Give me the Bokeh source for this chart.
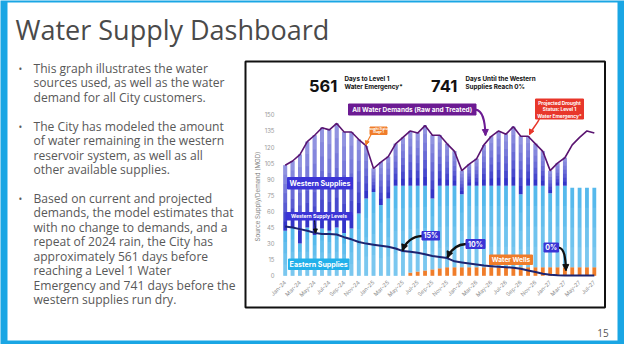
import math
from bokeh.plotting import figure
from bokeh.models import Range1d, ColumnDataSource, Arrow, NormalHead
from bokeh.core.properties import value
from bokeh.embed import file_html
from bokeh.resources import INLINE

# ---------------- data ----------------
months = ["Jan-24", "Feb-24", "Mar-24", "Apr-24", "May-24", "Jun-24", "Jul-24", "Aug-24", "Sep-24", "Oct-24", "Nov-24", "Dec-24",
          "Jan-25", "Feb-25", "Mar-25", "Apr-25", "May-25", "Jun-25", "Jul-25", "Aug-25", "Sep-25", "Oct-25", "Nov-25", "Dec-25",
          "Jan-26", "Feb-26", "Mar-26", "Apr-26", "May-26", "Jun-26", "Jul-26", "Aug-26", "Sep-26", "Oct-26", "Nov-26", "Dec-26",
          "Jan-27", "Feb-27", "Mar-27", "Apr-27", "May-27", "Jun-27", "Jul-27"]
demand = [103, 107, 113, 125, 131, 138, 136, 142, 134, 134, 127, 121,
          100, 106, 111, 123, 129, 135, 133, 140, 131, 131, 123, 116,
          98, 104, 109, 122, 130, 135, 132, 139, 130, 130, 123, 116,
          98, 105, 110, 122, 129, 135, 133]
wells = [0, 0, 0, 0, 0, 0, 0, 0, 0, 0, 0, 0,
         0, 0, 0, 0, 0, 3, 4, 5, 6, 7, 8, 8,
         8, 8, 8, 8, 8, 8, 8, 8, 8, 8, 8, 8,
         8, 8, 8, 8, 8, 8, 8]
eastern = [42, 45, 30, 45, 38, 44, 42, 45, 40, 44, 58, 72,
           78, 66, 72, 84, 84, 81, 80, 79, 66, 77, 76, 76,
           68, 76, 76, 76, 76, 76, 76, 76, 68, 76, 76, 76,
           69, 76, 76, 74, 74, 74, 74]
western = [61, 62, 83, 80, 93, 94, 94, 97, 94, 90, 69, 49,
           22, 40, 39, 39, 45, 51, 49, 56, 59, 47, 39, 32,
           22, 20, 25, 38, 46, 51, 48, 55, 54, 46, 39, 32,
           21, 21, 26, 0, 0, 0, 0]
western_level = [46, 45, 43.5, 42, 40, 39, 39, 38.5, 36, 34, 31.5, 30,
                 29, 28, 27, 25.5, 23, 22.5, 21.5, 20, 18.5, 17.5, 16.5, 13.5,
                 12.5, 11.5, 10.5, 9.5, 9, 8.5, 8, 7.5, 6.5, 5, 3.5, 2,
                 1, 0.6, 0.3, 0.2, 0.2, 0.2, 0.2]
y_ticks = [0, 15, 30, 45, 60, 75, 90, 105, 120, 135, 150]
x_tick_labels = months[::2]

bullets = [
    ["This graph illustrates the water", "sources used, as well as the water", "demand for all City customers."],
    ["The City has modeled the amount", "of water remaining in the western", "reservoir system, as well as all", "other available supplies."],
    ["Based on current and projected", "demands, the model estimates that", "with no change to demands, and a",
     "repeat of 2024 rain, the City has", "approximately 561 days before", "reaching a Level 1 Water",
     "Emergency and 741 days before the", "western supplies run dry."],
]

# ---------------- geometry (page pixels) ----------------
W, H = 624, 344
OX, OY = 8, 8
X0_PX, DX_PX = 292.7, 7.36     # month 0 position, px per month
Y0_PX, DY_PX = 283.3, 1.073    # value 0 position, px per unit

BLUE = "#1aa6e4"
p = figure(width=W, height=H,
           x_range=Range1d((OX - X0_PX) / DX_PX, (OX + W - X0_PX) / DX_PX),
           y_range=Range1d((Y0_PX - (OY + H)) / DY_PX, (Y0_PX - OY) / DY_PX),
           output_backend="svg", toolbar_location=None,
           x_axis_type=None, y_axis_type=None, min_border=0)
p.extra_x_ranges = {"px": Range1d(OX, OX + W)}
p.extra_y_ranges = {"px": Range1d(OY + H, OY)}
p.outline_line_color = None
p.background_fill_color = BLUE
p.border_fill_color = BLUE

PX = dict(x_range_name="px", y_range_name="px")


def txt(x, y, s, size, color="#ffffff", bold=False, font="Inter", align="center",
        baseline="middle", angle=0, xr="px", yr="px"):
    kw = {}
    if xr:
        kw["x_range_name"] = xr
    if yr:
        kw["y_range_name"] = yr
    n = len(s) if isinstance(s, list) else 1
    xs = x if isinstance(x, list) else [x] * n
    ys = y if isinstance(y, list) else [y] * n
    ss = s if isinstance(s, list) else [s]
    p.text(x=xs, y=ys, text=ss, text_font=value(font), text_font_size=f"{size}px",
           text_color=color, text_font_style="bold" if bold else "normal",
           text_align=align, text_baseline=baseline, angle=angle, **kw)


def box(l, r, t, b, color):
    p.quad(left=[l], right=[r], top=[t], bottom=[b], fill_color=color, line_color=color,
           line_width=1, **PX)


def arrow(x0, y0, cx0, cy0, cx1, cy1, x1, y1, color, lw, head):
    p.bezier(x0=[x0], y0=[y0], cx0=[cx0], cy0=[cy0], cx1=[cx1], cy1=[cy1], x1=[x1], y1=[y1],
             line_color=color, line_width=lw, **PX)
    dx, dy = x1 - cx1, y1 - cy1
    d = math.hypot(dx, dy) or 1
    p.add_layout(Arrow(end=NormalHead(size=head, fill_color=color, line_color=color, line_width=1),
                       x_start=x1 - dx / d * 0.6, y_start=y1 - dy / d * 0.6, x_end=x1, y_end=y1,
                       line_color=color, line_width=1, **PX))


# ---------------- slide ----------------
p.quad(left=[15], right=[625], top=[10], bottom=[348], fill_color="white", line_color=None, **PX)
txt(23, 37, "Water Supply Dashboard", 27, color="#4a4a4a", font="Open Sans", align="left", baseline="alphabetic")

line_h = 14.45
starts = [76, 134, 206]
for st, lines in zip(starts, bullets):
    ys = [st + i * line_h for i in range(len(lines))]
    txt(41, ys, lines, 12.1, color="#585858", font="Open Sans", align="left")
    txt(28, st, "•", 10, color="#585858", font="Open Sans")
txt(610.5, 340, "15", 10, color="#555555", font="Open Sans")

# chart frame
p.quad(left=[253], right=[612.5], top=[69], bottom=[315], fill_color="white",
       line_color="#111111", line_width=2, **PX)

# ---------------- bars ----------------
idx = list(range(len(months)))
src = ColumnDataSource(dict(x=idx, wells=wells, eastern=eastern, western=western))
p.vbar_stack(["wells", "eastern", "western"], x="x", width=0.52, source=src,
             color=["#f07d2a", "#56b9ec", "#3335c8"], line_color=None)
# gradient shading of western supplies (lighter toward the top)
base = [w + e for w, e in zip(wells, eastern)]
tops = [b + v for b, v in zip(base, western)]
for k in range(1, 7):
    bot = [b + (t - b) * k / 7 for b, t in zip(base, tops)]
    p.vbar(x=idx, bottom=bot, top=tops, width=0.52, fill_color="white", fill_alpha=0.1, line_color=None)
# lighter bottom of eastern supplies
for k in range(1, 4):
    topk = [w + e * (1 - k / 4) for w, e in zip(wells, eastern)]
    p.vbar(x=idx, bottom=wells, top=topk, width=0.52, fill_color="white", fill_alpha=0.08, line_color=None)

p.line(idx, demand, line_color="#5a1470", line_width=1.6)
p.line(idx, western_level, line_color="#1d2470", line_width=2)

# ---------------- axes (text) ----------------
txt([282] * len(y_ticks), y_ticks, [str(v) for v in y_ticks], 6, color="#9a9a9a",
    align="right", xr="px", yr=None)
txt(idx[::2], [289] * len(x_tick_labels), x_tick_labels, 5.6, color="#8f8f8f",
    align="right", angle=math.pi / 4, xr=None, yr="px")
txt(265, 204, "Source Supply/Demand (MGD)", 6.2, color="#808080", angle=math.pi / 2)

# ---------------- headline ----------------
txt(316.5, 93.5, "561", 16.5, color="#111111", bold=True, align="left", baseline="alphabetic")
txt(352, [86.3, 94], ["Days to Level 1", "Water Emergency*"], 6.3, color="#111111", bold=True,
    align="left", baseline="alphabetic")
txt(438.5, 93.5, "741", 16.5, color="#111111", bold=True, align="left", baseline="alphabetic")
txt(473, [86.3, 94], ["Days Until the Western", "Supplies Reach 0%"], 6.3, color="#111111", bold=True,
    align="left", baseline="alphabetic")

# ---------------- callouts ----------------
PURPLE, ORANGE, RED, ROYAL, CYAN = "#6c1b93", "#f07d2a", "#e8372b", "#3b34d6", "#22b0ea"

arrow(483, 117, 490, 118, 492.5, 127, 493, 143, PURPLE, 2, 6)
box(356, 483.5, 111.5, 122.5, PURPLE)
txt(419.7, 117.2, "All Water Demands (Raw and Treated)", 6.5, bold=True)

arrow(379, 141.5, 377, 145, 375, 148, 373.5, 152.5, ORANGE, 1.2, 4)
box(377.5, 394.5, 134.5, 142, ORANGE)
txt(386, [136.7, 139.9], ["Drought Status:", "Stage 1"], 3.1, bold=True)

arrow(547, 126, 545, 131, 540, 136, 537, 142, RED, 1.5, 5)
box(543, 591, 106.5, 126.5, RED)
txt(567, [110, 116.5, 123], ["Projected Drought", "Status: Level 1", "Water Emergency*"], 4.8, bold=True)

box(295, 360, 185, 196.5, ROYAL)
txt(327.5, 190.9, "Western Supplies", 7.1, bold=True)

arrow(322, 227.5, 322.3, 231, 322.8, 235, 323, 240.5, "#111111", 1, 4)
box(293.5, 359.5, 220, 227.5, ROYAL)
txt(326.5, 223.8, "Western Supply Levels", 5.0, bold=True)

box(296, 356.5, 266.5, 277, CYAN)
txt(326.2, 271.9, "Eastern Supplies", 7.1, bold=True)

arrow(429.5, 243.5, 420, 244, 413, 250, 410, 258, "#111111", 2.5, 6)
box(429.5, 447, 239, 247.5, ROYAL)
txt(438.2, 243.3, "15%", 7.0, bold=True)

arrow(473.5, 251.5, 464, 252, 458, 258, 455, 265, "#111111", 2.5, 6)
box(473.5, 492.5, 247, 256, ROYAL)
txt(483, 251.5, "10%", 7.0, bold=True)

arrow(566, 255, 572, 256, 573, 265, 573.5, 278, "#111111", 2.2, 6)
box(551.5, 566, 250.5, 259.5, ROYAL)
txt(558.7, 255, "0%", 7.0, bold=True)

box(497, 540, 262.5, 272, ORANGE)
txt(518.5, 267.3, "Water Wells", 6.6, bold=True)

open("out.html", "w").write(file_html(p, INLINE))
